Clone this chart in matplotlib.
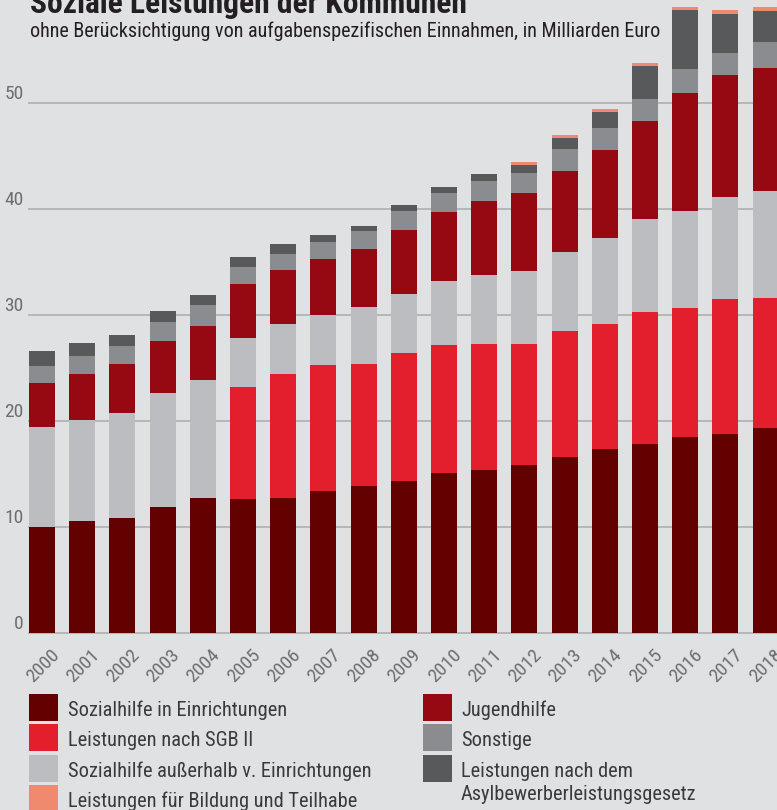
import matplotlib
matplotlib.use("Agg")
import matplotlib.pyplot as plt
from matplotlib.patches import Rectangle
from matplotlib.transforms import ScaledTranslation
from matplotlib import font_manager as fm
import numpy as np

# ---------------- data ----------------
years = [str(y) for y in range(2000, 2019)]
sozialhilfe_in_einr = [10.0, 10.57, 10.85, 11.89, 12.74, 12.64, 12.74, 13.4, 13.87, 14.34,
                       15.09, 15.38, 15.85, 16.6, 17.36, 17.83, 18.49, 18.77, 19.34]
sgb_ii = [0, 0, 0, 0, 0, 10.57, 11.69, 11.88, 11.51, 12.08,
          12.08, 11.88, 11.41, 11.89, 11.79, 12.45, 12.17, 12.74, 12.26]
sozialhilfe_ausserhalb = [9.43, 9.52, 9.9, 10.75, 11.13, 4.63, 4.72, 4.72, 5.37, 5.56,
                          6.04, 6.51, 6.89, 7.45, 8.11, 8.78, 9.15, 9.62, 10.1]
jugendhilfe = [4.15, 4.34, 4.63, 4.91, 5.09, 5.09, 5.1, 5.28, 5.48, 6.04,
               6.51, 6.98, 7.36, 7.64, 8.31, 9.24, 11.13, 11.51, 11.6]
sonstige = [1.61, 1.70, 1.70, 1.79, 1.98, 1.61, 1.5, 1.61, 1.69, 1.79,
            1.79, 1.89, 1.89, 2.08, 2.07, 2.08, 2.27, 2.08, 2.45]
asyl = [1.41, 1.23, 1.03, 1.04, 0.95, 0.94, 0.95, 0.66, 0.48, 0.57,
        0.57, 0.66, 0.75, 1.04, 1.51, 3.11, 5.56, 3.68, 2.93]
bildung = [0, 0, 0, 0, 0, 0, 0, 0, 0, 0,
           0, 0, 0.28, 0.28, 0.28, 0.28, 0.29, 0.37, 0.38]

series_labels = ["Sozialhilfe in Einrichtungen", "Leistungen nach SGB II",
                 "Sozialhilfe außerhalb v. Einrichtungen", "Jugendhilfe", "Sonstige",
                 "Leistungen nach dem Asylbewerberleistungsgesetz",
                 "Leistungen für Bildung und Teilhabe"]
series_values = [sozialhilfe_in_einr, sgb_ii, sozialhilfe_ausserhalb, jugendhilfe,
                 sonstige, asyl, bildung]
series_colors = ["#630000", "#e41f2d", "#bcbdc0", "#960812", "#8b8c8f", "#58595b", "#f08a6f"]
yticks = [0, 10, 20, 30, 40, 50]

title = "Soziale Leistungen der Kommunen"
subtitle = "ohne Berücksichtigung von aufgabenspezifischen Einnahmen, in Milliarden Euro"

# ---------------- fonts ----------------
names = {f.name for f in fm.fontManager.ttflist}
cond = next((n for n in ["Liberation Sans Narrow", "Roboto Condensed", "Open Sans Condensed",
                         "Liberation Sans", "DejaVu Sans"] if n in names), "DejaVu Sans")
plt.rcParams["font.family"] = [cond, "DejaVu Sans"]

BG = "#e0e1e3"
W, H = 777, 810
fig = plt.figure(figsize=(W / 100, H / 100), dpi=100, facecolor=BG)

y0px = 633
ax = fig.add_axes([29 / W, (H - y0px) / H, 1 - 29 / W, y0px / H])
ax.set_facecolor(BG)
for s in ax.spines.values():
    s.set_visible(False)

x = np.arange(len(years))
bottom = np.zeros(len(years))
for vals, col in zip(series_values, series_colors):
    ax.bar(x, vals, bottom=bottom, width=0.65, color=col, zorder=3, linewidth=0)
    bottom += np.array(vals)

ax.set_xlim(-0.323, (777 - 42) / 40.2)
ax.set_ylim(0, y0px / 10.6)

ax.set_yticks(yticks)
ax.set_yticklabels([str(v) for v in yticks])
ax.yaxis.grid(True, color="#b2b3b5", linewidth=1.3)
for gl in ax.get_ygridlines():
    gl.set_clip_on(False)
ax.set_axisbelow(True)
ax.tick_params(axis="y", length=0, pad=4, labelsize=14, labelcolor="#6d6e70")
for lbl in ax.get_yticklabels():
    lbl.set_verticalalignment("bottom")

ax.set_xticks(x)
ax.set_xticklabels(years, rotation=45, ha="right", rotation_mode="anchor")
ax.tick_params(axis="x", length=0, pad=9, labelsize=14, labelcolor="#6d6e70")
off = ScaledTranslation(8 / 100, 0, fig.dpi_scale_trans)
for lbl in ax.get_xticklabels():
    lbl.set_transform(lbl.get_transform() + off)

# ---------------- titles ----------------
fig.canvas.draw()
rend = fig.canvas.get_renderer()


def fit(t, target):
    for _ in range(3):
        w = t.get_window_extent(rend).width
        t.set_fontsize(t.get_fontsize() * target / w)


t1 = fig.text(30 / W, (H - 13) / H, title, fontsize=24, fontweight="bold",
              color="#231f20", va="baseline", ha="left")
fit(t1, 437)
t2 = fig.text(30 / W, (H - 37) / H, subtitle, fontsize=13, color="#231f20",
              va="baseline", ha="left")
fit(t2, 630)

# ---------------- legend ----------------
leg_color = "#3a3a3c"
rows_top = [694, 724, 755, 785]
col1 = [(0, 0), (1, 1), (2, 2), (6, 3)]
col2 = [(3, 0), (4, 1), (5, 2)]
probe = fig.text(68 / W, 0.5, series_labels[0], fontsize=14, color=leg_color)
fit(probe, 218)
lfs = probe.get_fontsize()
probe.remove()


def add_entry(si, row, sx, tx):
    top = rows_top[row]
    fig.add_artist(Rectangle((sx / W, (H - top - 27) / H), 29 / W, 27 / H,
                             transform=fig.transFigure, facecolor=series_colors[si],
                             edgecolor="none"))
    lab = series_labels[si]
    if si == 5:
        fig.text(tx / W, (H - (top + 22)) / H, "Leistungen nach dem", fontsize=lfs,
                 color=leg_color, va="baseline", ha="left")
        fig.text(tx / W, (H - (top + 45)) / H, "Asylbewerberleistungsgesetz", fontsize=lfs,
                 color=leg_color, va="baseline", ha="left")
    else:
        fig.text(tx / W, (H - (top + 22)) / H, lab, fontsize=lfs, color=leg_color,
                 va="baseline", ha="left")


for si, row in col1:
    add_entry(si, row, 29, 68)
for si, row in col2:
    add_entry(si, row, 423, 461)

fig.savefig("out.png", dpi=100, facecolor=BG)
